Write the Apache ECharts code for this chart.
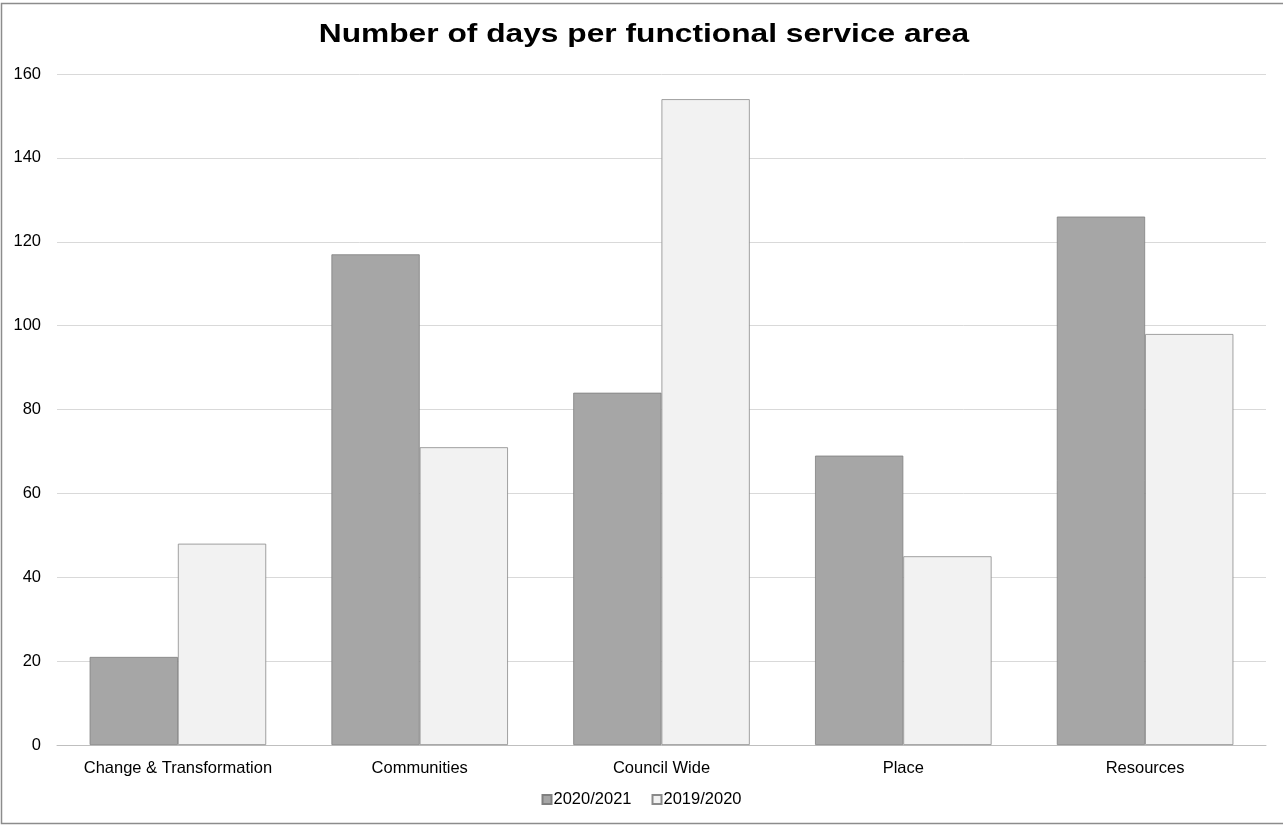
<!DOCTYPE html>
<html>
<head>
<meta charset="utf-8">
<script src="https://cdn.jsdelivr.net/npm/echarts@6/dist/echarts.min.js"></script>
<style>
  html, body { margin: 0; padding: 0; background: #fff; }
  #chart { width: 1283px; height: 826px; }
</style>
</head>
<body>
<div id="chart"></div>
<script>
// Service areas and days recorded in each year
const categories = ['Change & Transformation', 'Communities', 'Council Wide', 'Place', 'Resources'];
const days2020_2021 = [21, 117, 84, 69, 126];
const days2019_2020 = [48, 71, 154, 45, 98];
const yTicks = { min: 0, max: 160, interval: 20 };
const chartTitle = 'Number of days per functional service area';

const chart = echarts.init(document.getElementById('chart'), null, { renderer: 'canvas' });
const font = 'Liberation Sans, Arial, sans-serif';
const labelSize = 16.5;

chart.setOption({
  backgroundColor: '#ffffff',
  animation: false,
  graphic: [
    {
      type: 'rect',
      shape: { x: 1.5, y: 3.5, width: 1290, height: 820 },
      style: { fill: 'none', stroke: '#8c8c8c', lineWidth: 1.5 },
      silent: true
    },
    {
      // wide bold heading, stretched horizontally around the page centre
      type: 'text',
      x: 644,
      y: 35,
      scaleX: 1.22,
      style: {
        text: chartTitle,
        fontFamily: font,
        fontSize: 26,
        fontWeight: 'bold',
        fill: '#000000',
        align: 'center',
        verticalAlign: 'middle'
      },
      silent: true
    }
  ],
  legend: {
    bottom: 13,
    left: 'center',
    itemWidth: 9,
    itemHeight: 9,
    itemGap: 20,
    icon: 'rect',
    textStyle: { fontFamily: font, fontSize: labelSize, color: '#000000', padding: [0, 0, 0, -3] },
    data: ['2020/2021', '2019/2020']
  },
  grid: { left: 57, right: 17, top: 74, bottom: 81, containLabel: false },
  xAxis: {
    type: 'category',
    data: categories,
    axisLine: { lineStyle: { color: '#bfbfbf', width: 1 } },
    axisTick: { show: false },
    axisLabel: { interval: 0, fontFamily: font, fontSize: labelSize, color: '#000000', margin: 15 }
  },
  yAxis: {
    type: 'value',
    min: yTicks.min,
    max: yTicks.max,
    interval: yTicks.interval,
    axisLine: { show: false },
    axisTick: { show: false },
    splitLine: { lineStyle: { color: '#d9d9d9', width: 1 } },
    axisLabel: { fontFamily: font, fontSize: labelSize, color: '#000000', margin: 16 }
  },
  series: [
    {
      name: '2020/2021',
      type: 'bar',
      data: days2020_2021,
      barGap: '0%',
      barCategoryGap: '27%',
      itemStyle: { color: '#a6a6a6', borderColor: '#808080', borderWidth: 0.8 }
    },
    {
      name: '2019/2020',
      type: 'bar',
      data: days2019_2020,
      barGap: '0%',
      barCategoryGap: '27%',
      itemStyle: { color: '#f2f2f2', borderColor: '#8a8a8a', borderWidth: 0.8 }
    }
  ]
});
</script>
</body>
</html>
